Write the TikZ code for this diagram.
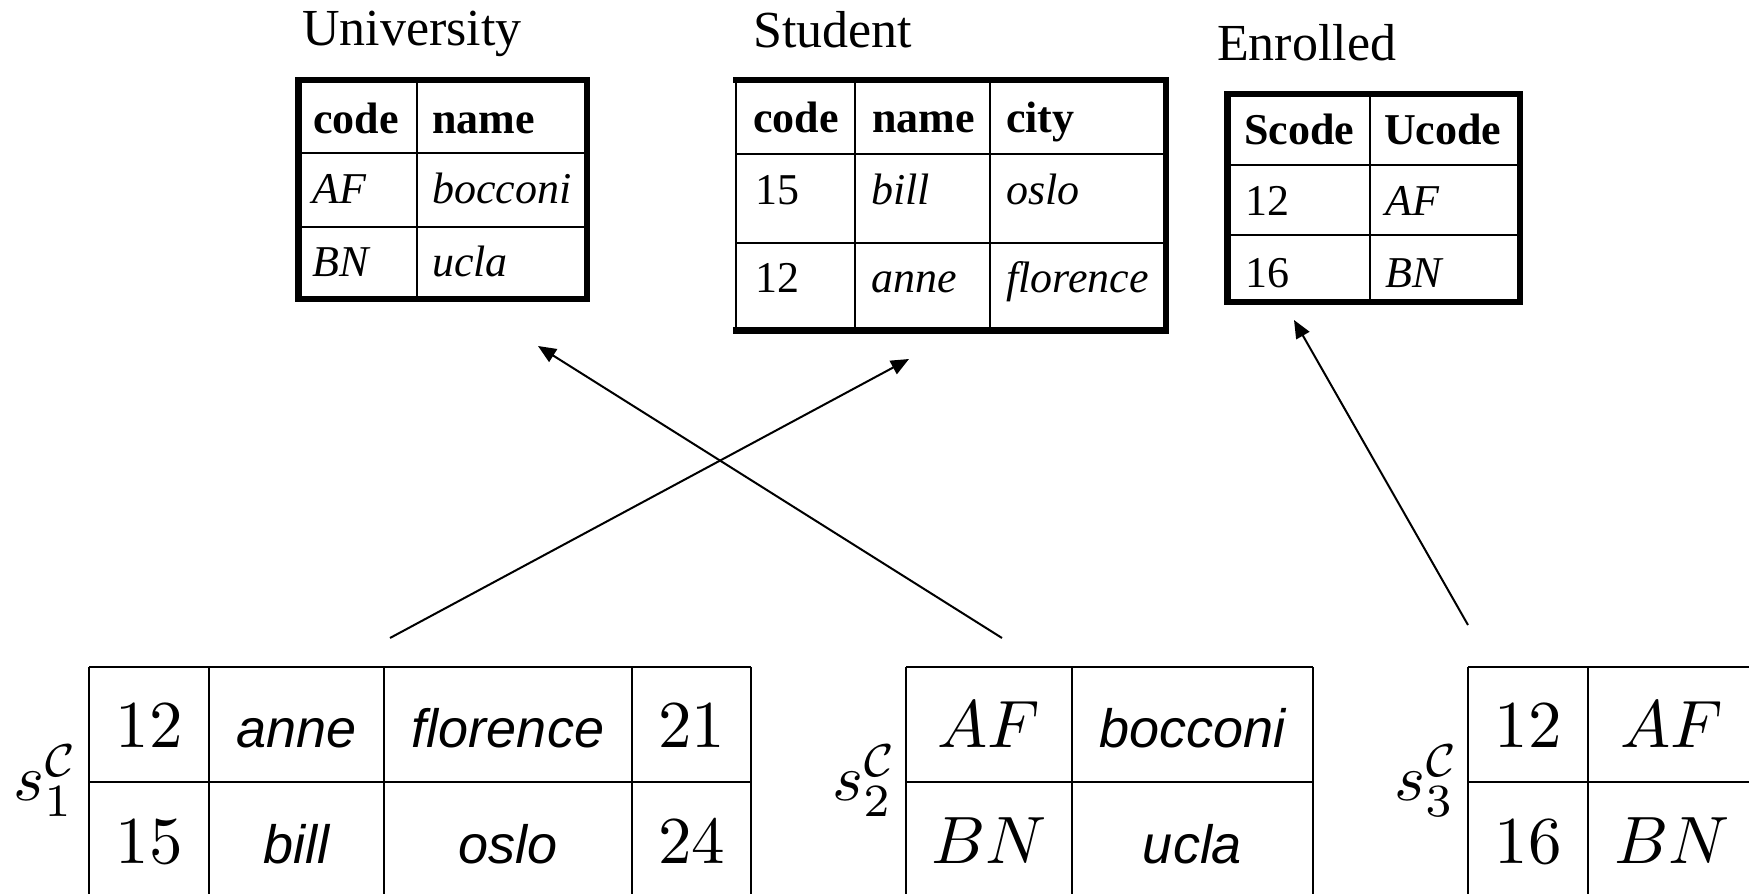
\documentclass[tikz,border=0pt]{standalone}
\usepackage{fontspec}
\usetikzlibrary{arrows.meta}
\newfontfamily\serifTNR{Liberation Serif}
\newfontfamily\sansH{Liberation Sans}
\newcommand\titlefont{\serifTNR\fontsize{52}{60}\selectfont}
\newcommand\cellfont{\serifTNR\fontsize{44}{50}\selectfont}
\newcommand\smallmath{\fontsize{10}{12}\selectfont}
\newcommand\bigsans{\sansH\itshape\fontsize{54}{62}\selectfont}
\begin{document}
\begin{tikzpicture}[x=1pt,y=-1pt,
  ttl/.style={anchor=base west, inner sep=0pt, font=\titlefont},
  hd/.style={anchor=base west, inner sep=0pt, font=\cellfont\bfseries},
  ce/.style={anchor=base west, inner sep=0pt, font=\cellfont},
  ci/.style={anchor=base west, inner sep=0pt, font=\cellfont\itshape},
  bm/.style={anchor=base, inner sep=0pt, font=\smallmath, scale=6.7},
  bs/.style={anchor=base, inner sep=0pt, font=\bigsans},
  lbl/.style={anchor=base west, inner sep=0pt, font=\smallmath, scale=6.6},
  frame/.style={line width=6.5pt},
  rule/.style={line width=1.6pt},
  brule/.style={line width=2pt},
  link/.style={line width=2pt, -{Triangle[length=18pt,width=15pt]}}]
\useasboundingbox (0,0) rectangle (1749,894);
\clip (0,0) rectangle (1749,894);

% ---- University ----
\node[ttl] (uT) at (302,45) {University};
\draw[rule] (417,80) -- (417,299) (298.5,153) -- (587,153) (298.5,227) -- (587,227);
\draw[frame] (298.5,80) rectangle (587,299);
\node[hd] (u01) at (313,133) {code};
\node[hd] (u02) at (432,133) {name};
\node[ci] (u11) at (312,203) {AF};
\node[ci] (u12) at (432,203) {bocconi};
\node[ci] (u21) at (312,276) {BN};
\node[ci] (u22) at (432,276) {ucla};

% ---- Student ----
\node[ttl] (sT) at (753,47) {Student};
\draw[rule] (736,80) -- (736,330.5) (855,80) -- (855,330.5) (990,80) -- (990,330.5)
  (736,154) -- (1166,154) (736,243) -- (1166,243);
\draw[frame] (733,80) -- (1166,80) -- (1166,330.5) -- (733,330.5);
\node[hd] (s01) at (753,132) {code};
\node[hd] (s02) at (872,132) {name};
\node[hd] (s03) at (1006,132) {city};
\node[ce] (s11) at (755,204) {15};
\node[ci] (s12) at (871,204) {bill};
\node[ci] (s13) at (1006,204) {oslo};
\node[ce] (s21) at (755,292) {12};
\node[ci] (s22) at (871,292) {anne};
\node[ci] (s23) at (1006,292) {florence};

% ---- Enrolled ----
\node[ttl] (eT) at (1217,60) {Enrolled};
\draw[rule] (1370,94) -- (1370,302) (1227.5,165) -- (1520,165) (1227.5,235) -- (1520,235);
\draw[frame] (1227.5,94) rectangle (1520,302);
\node[hd] (e01) at (1244,144) {Scode};
\node[hd] (e02) at (1384,144) {Ucode};
\node[ce] (e11) at (1245,215) {12};
\node[ci] (e12) at (1385,215) {AF};
\node[ce] (e21) at (1245,287) {16};
\node[ci] (e22) at (1385,287) {BN};

% ---- s1 ----
\node[lbl] (l1) at (12,800) {$s_1^{\mathcal{C}}$};
\draw[brule] (89,667) -- (751,667) (89,782) -- (751,782)
  (89,667) -- (89,900) (209,667) -- (209,900) (384,667) -- (384,900)
  (632,667) -- (632,900) (751,667) -- (751,900);
\node[bm] (a11) at (149,747) {$12$};
\node[bs] (a12) at (296.5,747) {anne};
\node[bs] (a13) at (508,747) {florence};
\node[bm] (a14) at (691.5,747) {$21$};
\node[bm] (a21) at (149,863) {$15$};
\node[bs] (a22) at (296.5,863) {bill};
\node[bs] (a23) at (508,863) {oslo};
\node[bm] (a24) at (691.5,863) {$24$};

% ---- s2 ----
\node[lbl] (l2) at (831,800) {$s_2^{\mathcal{C}}$};
\draw[brule] (906,667) -- (1313,667) (906,782) -- (1313,782)
  (906,667) -- (906,900) (1072,667) -- (1072,900) (1313,667) -- (1313,900);
\node[bm] (b11) at (989,747) {$AF$};
\node[bs] (b12) at (1192.5,747) {bocconi};
\node[bm] (b21) at (989,863) {$BN$};
\node[bs] (b22) at (1192.5,863) {ucla};

% ---- s3 ----
\node[lbl] (l3) at (1393,800) {$s_3^{\mathcal{C}}$};
\draw[brule] (1468,667) -- (1756,667) (1468,782) -- (1756,782)
  (1468,667) -- (1468,900) (1588,667) -- (1588,900) (1756,667) -- (1756,900);
\node[bm] (c11) at (1528,747) {$12$};
\node[bm] (c12) at (1672,747) {$AF$};
\node[bm] (c21) at (1528,863) {$16$};
\node[bm] (c22) at (1672,863) {$BN$};

% ---- links ----
\coordinate (p1) at (390,638);
\coordinate (q1) at (909,359);
\coordinate (p2) at (1002,638);
\coordinate (q2) at (538,346);
\coordinate (p3) at (1468,625);
\coordinate (q3) at (1294,320);
\draw[link] (p1) -- (q1);
\draw[link] (p2) -- (q2);
\draw[link] (p3) -- (q3);
\end{tikzpicture}
\end{document}
